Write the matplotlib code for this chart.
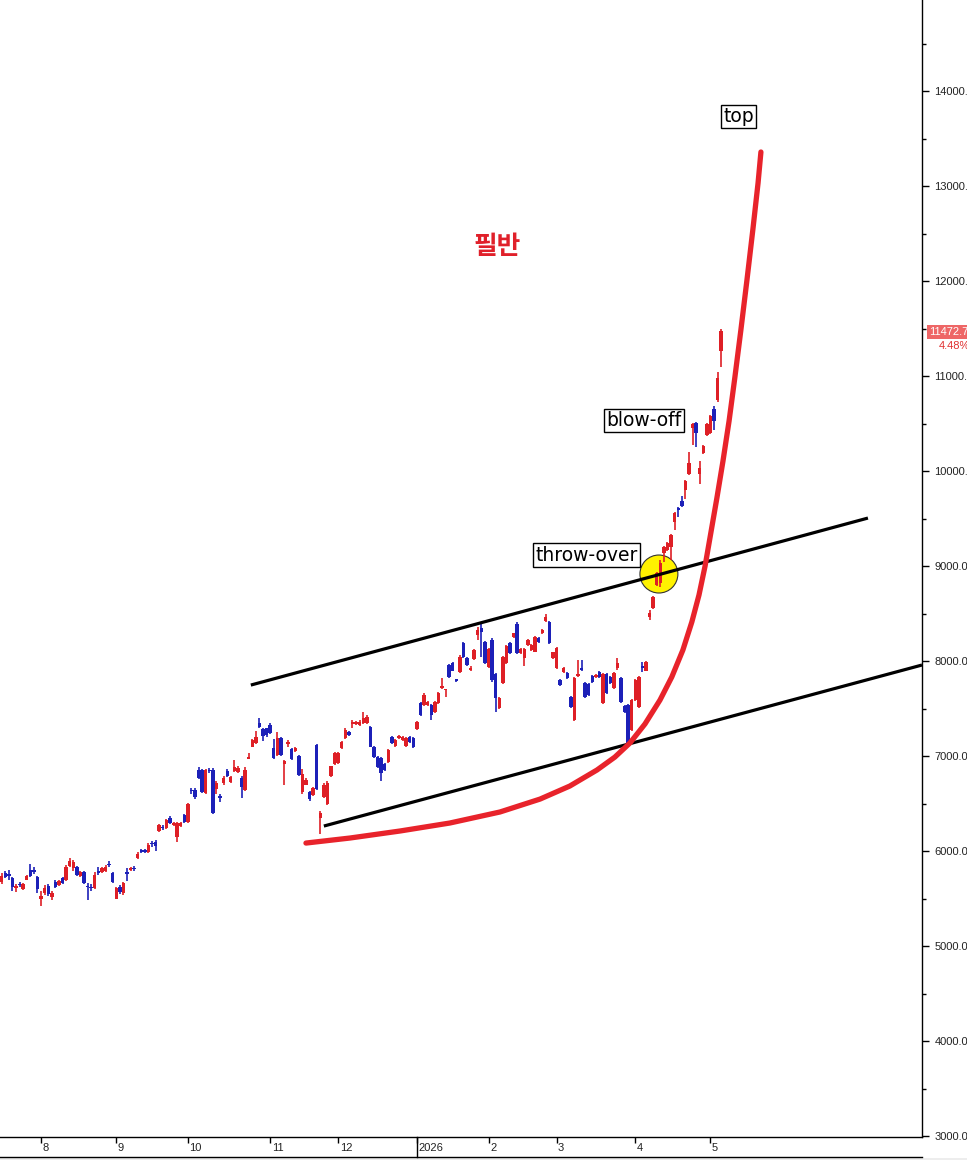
import numpy as np
import matplotlib
matplotlib.use("Agg")
import matplotlib.pyplot as plt
from matplotlib.patches import Ellipse, Rectangle
from matplotlib.lines import Line2D
from matplotlib.ticker import MultipleLocator, FormatStrFormatter
import matplotlib.transforms as mtransforms

# ---------------- data ----------------
opens = [
    5670,5770,5760,5720,5610,5650,5600,5700,5800,5790,
    5730,5490,5560,5630,5520,5670,5640,5720,5690,5840,
    5820,5830,5740,5780,5630,5620,5610,5780,5780,5790,
    5860,5770,5500,5620,5560,5780,5800,5820,5930,6010,
    6000,5990,6080,6090,6210,6250,6240,6350,6270,6150,
    6260,6380,6310,6640,6640,6850,6850,6610,6850,6850,
    6650,6570,6720,6840,6730,6840,6830,6770,6640,6970,
    7100,7140,7350,7280,7290,7330,7080,7010,7190,6920,
    7130,7070,7050,7000,6620,6700,6620,6590,7120,6350,
    6570,6500,6790,6920,6930,7080,7190,7250,7340,7340,
    7330,7350,7350,7310,7100,6990,6980,6920,6940,7200,
    7110,7190,7170,7110,7200,7190,7280,7560,7540,7540,
    7540,7460,7560,7720,7690,7960,7980,7800,7880,8190,
    8030,7910,8020,8270,8350,8200,7940,8220,7860,7510,
    7770,7980,8190,8250,8390,8080,8030,8170,8120,8100,
    8240,8290,8420,8410,8030,7930,7800,7880,7870,7620,
    7380,7840,7920,7770,7760,7840,7830,7880,7560,7860,
    7830,7720,7930,7820,7530,7540,7270,7590,7520,7940,
    7900,8460,8560,8800,8820,9140,9170,9200,9460,9600,
    9680,9800,9970,10450,10510,9970,10190,10380,10400,10650,
    10750,11260,
]
closes = [
    5740,5730,5740,5620,5630,5640,5650,5740,5740,5780,
    5600,5530,5610,5550,5560,5620,5680,5660,5830,5900,
    5880,5750,5780,5660,5620,5610,5750,5770,5820,5830,
    5850,5670,5610,5570,5660,5760,5820,5810,5970,5990,
    5990,6060,6070,6050,6270,6240,6330,6290,6300,6300,
    6300,6310,6500,6630,6570,6770,6620,6850,6840,6400,
    6720,6560,6770,6790,6780,6880,6870,6670,6850,6980,
    7170,7200,7310,7210,7220,7240,6980,7190,7010,6950,
    7150,6970,7080,6800,6810,6750,6550,6660,6650,6400,
    6700,6720,6890,7030,7030,7150,7270,7220,7360,7360,
    7360,7400,7410,7100,6990,6880,6820,6850,7060,7140,
    7170,7200,7200,7190,7150,7090,7360,7430,7640,7570,
    7430,7570,7660,7740,7700,7830,7900,7790,8040,8040,
    7960,7930,8120,8330,8310,7980,8130,7800,7610,7610,
    8040,8160,8080,8290,8080,8130,8130,8220,8170,8250,
    8200,8330,8460,8190,8090,8140,7750,7930,7820,7520,
    7820,7860,7910,7620,7640,7780,7850,7830,7860,7660,
    7770,7870,7980,7570,7460,7140,7590,7800,7830,7930,
    7990,8510,8670,8930,9030,9200,9240,9330,9560,9590,
    9630,9900,10080,10500,10400,10030,10260,10500,10580,10530,
    10980,11473,
]
highs = [
    5770,5790,5800,5730,5650,5670,5660,5750,5860,5830,
    5740,5580,5640,5650,5580,5690,5690,5730,5850,5930,
    5910,5840,5790,5790,5660,5650,5780,5830,5830,5850,
    5900,5780,5620,5640,5670,5820,5830,5840,5990,6020,
    6020,6080,6110,6120,6280,6270,6340,6370,6310,6310,
    6310,6390,6510,6660,6660,6880,6860,6860,6870,6870,
    6740,6600,6790,6860,6790,6960,6890,6790,6880,7030,
    7180,7260,7400,7290,7300,7350,7180,7250,7200,6960,
    7170,7080,7090,7010,6860,6770,6630,6670,7130,6420,
    6720,6740,6900,7040,7040,7160,7290,7260,7380,7370,
    7380,7460,7430,7320,7110,7000,6990,6930,7070,7210,
    7180,7220,7210,7200,7210,7200,7370,7570,7660,7580,
    7550,7580,7670,7820,7710,7970,7990,7810,8060,8200,
    8040,7950,8130,8360,8400,8210,8140,8240,7870,7620,
    8050,8170,8200,8300,8410,8140,8140,8230,8180,8260,
    8250,8340,8490,8420,8100,8150,7810,7940,7880,7630,
    7830,8010,8010,7780,7770,7850,7860,7890,7870,7870,
    7840,7880,8030,7830,7540,7550,7600,7810,7840,7990,
    8000,8540,8680,8940,9060,9210,9250,9340,9570,9620,
    9740,9910,10200,10510,10520,10110,10270,10510,10590,10680,
    11040,11490,
]
lows = [
    5650,5720,5700,5580,5570,5620,5590,5690,5730,5760,
    5560,5420,5540,5530,5480,5610,5630,5650,5680,5830,
    5790,5740,5730,5650,5480,5580,5600,5750,5770,5780,
    5830,5660,5490,5550,5540,5680,5790,5790,5920,5980,
    5980,5980,6040,6000,6200,6220,6230,6280,6260,6100,
    6250,6300,6300,6600,6550,6760,6610,6600,6820,6390,
    6600,6520,6700,6780,6720,6830,6820,6560,6630,6970,
    7090,7130,7300,7160,7200,7230,6970,7000,7000,6700,
    7090,6960,7040,6790,6600,6690,6530,6580,6640,6180,
    6560,6480,6780,6910,6920,7070,7180,7210,7300,7330,
    7320,7340,7340,7090,6980,6870,6740,6840,6930,7130,
    7100,7180,7160,7100,7140,7080,7270,7420,7530,7530,
    7380,7450,7550,7710,7620,7820,7890,7780,7870,8030,
    7950,7900,8010,8220,8040,7970,7930,7780,7460,7500,
    7760,7970,8070,8240,8070,8070,7950,8160,8110,8090,
    8190,8280,8410,8180,8020,7920,7740,7870,7810,7510,
    7370,7830,7900,7610,7630,7770,7820,7820,7550,7650,
    7760,7710,7910,7560,7450,7100,7260,7580,7510,7880,
    7890,8430,8550,8790,8780,9040,9160,9060,9380,9520,
    9620,9710,9960,10270,10250,9860,10180,10370,10390,10430,
    10730,11100,
]

# month starts (trading-day index) and their labels
month_idx = [11, 32, 52, 75, 94, 116, 136, 155, 177, 198]
month_labels = ["8", "9", "10", "11", "12", "2026", "2", "3", "4", "5"]

# hand-drawn annotations (trading-day index, price)
upper_line_idx = [69.6, 242.0]
upper_line_val = [7747, 9505]
lower_line_idx = [90.0, 257.1]
lower_line_val = [6263, 7958]
curve_idx = [85.0, 97.3, 111.3, 125.2, 139.2, 150.4, 158.7, 166.3, 171.3, 175.5,
             179.7, 183.9, 187.2, 190.3, 192.8, 194.8, 196.5, 198.1, 199.8, 201.5,
             203.2, 204.8, 206.5, 208.2, 209.9, 211.3, 212.1]
curve_val = [6084, 6137, 6211, 6295, 6411, 6547, 6684, 6853, 6989, 7137,
             7337, 7589, 7832, 8116, 8411, 8695, 9000, 9347, 9716, 10105,
             10526, 10979, 11484, 12011, 12558, 13032, 13358]
circle_center = (183.6, 8916)

last_price_text = "11472.71"
last_change_text = "4.48%"

# ---------------- figure ----------------
W, H = 967, 1160
fig = plt.figure(figsize=(W / 100, H / 100), dpi=100)
fig.patch.set_facecolor("white")
ax = fig.add_axes([0, 23 / H, 922 / W, 1137 / H])
ax.set_facecolor("white")
ax.set_xlim(-0.475, 257.1)
ax.set_ylim(2990, 14958)

RED = "#DE1F26"
BLUE = "#1C20B8"

o = np.array(opens, float)
c = np.array(closes, float)
hi = np.array(highs, float)
lo = np.array(lows, float)
x = np.arange(len(o))
cols = np.where(c >= o, RED, BLUE)

ax.vlines(x, lo, hi, colors=cols, lw=1.2, zorder=3)
body_h = np.maximum(np.abs(c - o), 16)
ax.bar(x, body_h, bottom=np.minimum(o, c), width=0.95, color=cols,
       linewidth=0, zorder=4)

# yellow circle
ax.add_patch(Ellipse(circle_center, width=10.6, height=400, facecolor="#FFF200",
                     edgecolor="#333333", lw=0.8, zorder=2))

# channel lines
ax.plot(upper_line_idx, upper_line_val, color="black", lw=2.3, zorder=5,
        solid_capstyle="butt")
ax.plot(lower_line_idx, lower_line_val, color="black", lw=2.3, zorder=5,
        solid_capstyle="butt")
# red parabolic curve
ax.plot(curve_idx, curve_val, color="#E8232B", lw=3.8, zorder=6,
        solid_capstyle="round", solid_joinstyle="round")

# labels
box = dict(boxstyle="square,pad=0.12", facecolor="white", edgecolor="black", lw=1)
ax.text(163.4, 9116, "throw-over", fontsize=13.5, family="DejaVu Sans",
        ha="center", va="center", bbox=box, zorder=8)
ax.text(179.4, 10531, "blow-off", fontsize=13.5, family="DejaVu Sans",
        ha="center", va="center", bbox=box, zorder=8)
ax.text(205.8, 13731, "top", fontsize=13.5, family="DejaVu Sans",
        ha="center", va="center", bbox=box, zorder=8)
ax.text(138.4, 12368, "필반", fontsize=18.5, fontweight="bold", color="#E0202A",
        family=["Noto Sans CJK KR", "DejaVu Sans"], ha="center", va="center", zorder=8)

# spines / axes
for s in ["left", "top"]:
    ax.spines[s].set_visible(False)
ax.spines["right"].set_color("black")
ax.spines["bottom"].set_color("black")
ax.spines["right"].set_linewidth(1)
ax.spines["bottom"].set_linewidth(1)

ax.yaxis.tick_right()
ax.yaxis.set_major_locator(MultipleLocator(1000))
ax.yaxis.set_minor_locator(MultipleLocator(500))
ax.yaxis.set_major_formatter(FormatStrFormatter("%.2f"))
ax.tick_params(axis="y", which="major", direction="out", length=5, width=1,
               colors="black", labelcolor="#222222", labelsize=8, pad=4)
ax.tick_params(axis="y", which="minor", direction="out", length=3, width=1,
               colors="black")
for lbl in ax.get_yticklabels():
    lbl.set_family("Liberation Sans")

ax.set_xticks(month_idx)
ax.set_xticklabels([])
ax.tick_params(axis="x", direction="out", length=4, width=1, colors="black")
trans = mtransforms.blended_transform_factory(ax.transData, ax.transAxes)
for mi, ml in zip(month_idx, month_labels):
    ax.text(mi + 0.4, -0.0055, ml, transform=trans, ha="left", va="top",
            fontsize=8, family="Liberation Sans", color="#222222", clip_on=False)

# bottom band lines
fig.add_artist(Line2D([0, 922 / W], [3 / H, 3 / H], color="black", lw=1))
sep_x = ax.transData.transform((month_idx[5], 0))[0] / W
fig.add_artist(Line2D([sep_x, sep_x], [3 / H, 23 / H], color="black", lw=1))
fig.add_artist(Rectangle((0, 0), 1, 2.5 / H, transform=fig.transFigure,
                         facecolor="#EDEDED", edgecolor="none"))

# last price tag
fig.text(929 / W, (H - 332) / H, last_price_text, fontsize=8, color="white",
         family="Liberation Sans", ha="left", va="center",
         bbox=dict(boxstyle="square,pad=0.22", facecolor="#EE6666", edgecolor="none"))
fig.text(939 / W, (H - 346) / H, last_change_text, fontsize=8, color="#E03030",
         family="Liberation Sans", ha="left", va="center")

fig.savefig("out.png", dpi=100, facecolor="white")
